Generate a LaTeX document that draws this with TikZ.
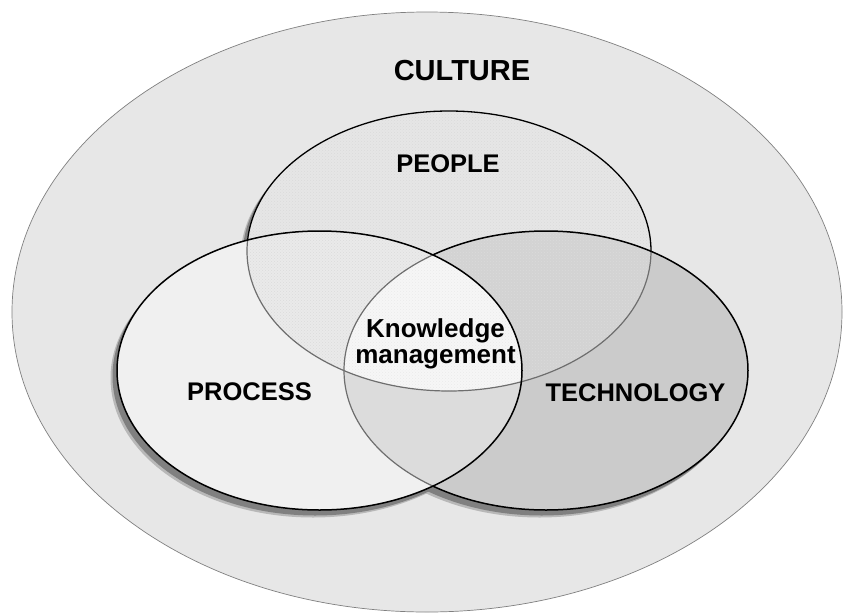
\documentclass[tikz,border=0pt]{standalone}
\usepackage{fontspec}
\setmainfont{Liberation Sans}
\usetikzlibrary{patterns}

\definecolor{culturebg}{HTML}{E7E7E7}
\definecolor{peoplebg}{HTML}{E6E6E6}
\definecolor{processbg}{HTML}{F0F0F0}
\definecolor{techbg}{HTML}{CBCBCB}
\definecolor{peopletechbg}{HTML}{D3D3D3}
\definecolor{peopleprocbg}{HTML}{EAEAEA}
\definecolor{proctechbg}{HTML}{DCDCDC}
\definecolor{kmbg}{HTML}{F6F6F6}
\definecolor{arcgray}{HTML}{6E6E6E}

\tikzset{
  culture path/.style={insert path={(427,312) ellipse [x radius=415pt, y radius=300pt]}},
  people path/.style={insert path={(449,251) ellipse [x radius=202pt, y radius=140pt]}},
  process path/.style={insert path={(319.5,370.5) ellipse [x radius=202.5pt, y radius=139.5pt]}},
  tech path/.style={insert path={(546,370.5) ellipse [x radius=202pt, y radius=139.5pt]}},
  rim/.style={draw=black, line width=1.5pt},
  underrim/.style={draw=arcgray, line width=1.2pt},
  dotted fill/.style={pattern=crosshatch dots, pattern color=black!14},
  label/.style={font=\fontsize{25.5}{30}\selectfont\bfseries, inner sep=0pt, anchor=base}
}

\begin{document}
\begin{tikzpicture}[x=1pt, y=-1pt]
			\fill[white] (0,0) rectangle (844,614);
			\useasboundingbox (0,0) rectangle (844,614);

			% culture
			\fill[culturebg, culture path];
			\draw[black!50, line width=0.7pt, culture path];

			% shadows
			\begin{scope}[shift={(-6.5,7.5)}]
				\fill[black!28, people path];
				\fill[black!28, process path];
				\fill[black!28, tech path];
			\end{scope}
			\begin{scope}[shift={(-4.5,5.5)}]
				\fill[black!50, people path];
				\fill[black!50, process path];
				\fill[black!50, tech path];
			\end{scope}

			% people
			\fill[peoplebg, people path];
			\fill[dotted fill, people path];
			\draw[rim, line width=1.3pt, people path];

			% technology
			\fill[techbg, tech path];
			\begin{scope}
				\clip[tech path];
				\fill[peopletechbg, people path];
				\fill[dotted fill, people path];
				\draw[underrim, people path];
			\end{scope}
			\draw[rim, tech path];

			% process
			\fill[processbg, process path];
			\begin{scope}
				\clip[process path];
				\fill[proctechbg, tech path];
				\fill[peopleprocbg, people path];
				\fill[dotted fill, people path];
				\begin{scope}
					\clip[tech path];
					\fill[kmbg, people path];
					\fill[pattern=crosshatch dots, pattern color=black!8, people path];
				\end{scope}
				\draw[underrim, people path];
				\draw[underrim, tech path];
			\end{scope}
			\draw[rim, process path];

			% labels
			\node (culture)[label, font=\fontsize{29}{34}\selectfont\bfseries] at (462, 80) {CULTURE};
			\node (people)[label] at (448, 172) {PEOPLE};
			\node (process)[label] at (249.5, 400) {PROCESS};
			\node (tech)[label] at (635.5, 401) {TECHNOLOGY};
			\node (km)[font=\fontsize{26}{26}\selectfont\bfseries, align=center, inner sep=0pt] at (435.5, 344) {Knowledge\\management};
		\end{tikzpicture}
\end{document}
